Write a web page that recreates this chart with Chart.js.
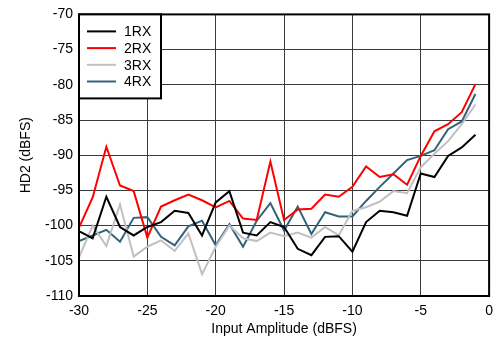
<!DOCTYPE html>
<html>
<head>
<meta charset="utf-8">
<script src="https://cdn.jsdelivr.net/npm/chart.js@4/dist/chart.umd.min.js"></script>
<style>
  html, body { margin: 0; padding: 0; background: #fff; }
  #wrap { width: 500px; height: 339px; }
</style>
</head>
<body>
<div id="wrap"><canvas id="hd2-chart"></canvas></div>
<script>
// Input amplitude (dBFS) and HD2 per receiver (dBFS)
const amplitude = [-30, -29, -28, -27, -26, -25, -24, -23, -22, -21, -20, -19, -18, -17, -16,
                   -15, -14, -13, -12, -11, -10, -9, -8, -7, -6, -5, -4, -3, -2, -1];
const rx1 = [-100.8, -101.8, -95.9, -100.2, -101.4, -100.2, -99.5, -97.9, -98.2, -101.4,
             -96.7, -95.1, -101.0, -101.4, -99.5, -100.2, -103.3, -104.2, -101.6, -101.5,
             -103.7, -99.5, -97.9, -98.1, -98.6, -92.6, -93.1, -90.1, -88.9, -87.1];
const rx2 = [-100.3, -96.0, -88.8, -94.3, -95.1, -101.7, -97.3, -96.4, -95.6, -96.4,
             -97.4, -96.5, -99.0, -99.2, -90.9, -99.2, -97.7, -97.6, -95.6, -95.9,
             -94.5, -91.6, -93.1, -92.7, -94.2, -90.1, -86.6, -85.6, -83.9, -79.9];
const rx3 = [-104.5, -100.0, -102.9, -97.0, -104.4, -103.0, -102.1, -103.6, -101.1, -106.9,
             -103.0, -100.0, -101.8, -102.2, -101.0, -101.5, -101.0, -101.7, -100.2, -101.4,
             -97.9, -97.4, -96.6, -95.1, -95.4, -91.7, -89.8, -88.0, -85.6, -82.8];
const rx4 = [-102.2, -101.4, -100.6, -102.3, -98.9, -98.8, -101.6, -102.8, -100.1, -99.3,
             -102.8, -99.8, -103.0, -99.3, -96.8, -100.7, -97.3, -101.2, -98.1, -98.7,
             -98.7, -96.5, -94.5, -92.6, -90.7, -90.1, -89.3, -86.3, -85.2, -81.3];
const seriesNames = ['1RX', '2RX', '3RX', '4RX'];
const seriesColors = ['#000000', '#ff0000', '#c0c0c0', '#33627a'];

function toPoints(values) {
    return values.map((v, i) => ({ x: amplitude[i], y: v }));
}

const font = { family: '"Liberation Sans", Arial, sans-serif', size: 14 };

// frame around the plot area plus the boxed legend in the upper left
const framePlugin = {
    id: 'frame',
    afterDatasetsDraw(chart) {
        const { ctx, chartArea: a } = chart;
        ctx.save();
        ctx.strokeStyle = '#000';
        ctx.lineWidth = 2;
        ctx.strokeRect(a.left, a.top, a.right - a.left, a.bottom - a.top);

        const bx = a.left, by = a.top, bw = 82, bh = 84;
        ctx.fillStyle = '#fff';
        ctx.fillRect(bx, by, bw, bh);
        ctx.strokeRect(bx, by, bw, bh);

        ctx.font = '14px "Liberation Sans", Arial, sans-serif';
        ctx.textBaseline = 'middle';
        chart.data.datasets.forEach((ds, i) => {
            const y = by + 17 + i * 16.7;
            ctx.strokeStyle = ds.borderColor;
            ctx.lineWidth = 2;
            ctx.beginPath();
            ctx.moveTo(bx + 8, y);
            ctx.lineTo(bx + 37, y);
            ctx.stroke();
            ctx.fillStyle = '#000';
            ctx.fillText(ds.label, bx + 45, y + 1);
        });
        ctx.restore();
    }
};

new Chart(document.getElementById('hd2-chart'), {
    type: 'line',
    data: {
        datasets: [rx1, rx2, rx3, rx4].map((vals, i) => ({
            label: seriesNames[i],
            data: toPoints(vals),
            borderColor: seriesColors[i],
            backgroundColor: seriesColors[i],
            borderWidth: 2,
            pointRadius: 0,
            tension: 0
        }))
    },
    options: {
        responsive: true,
        maintainAspectRatio: false,
        animation: false,
        layout: { padding: { left: 0, right: 8, top: 13, bottom: 0 } },
        plugins: {
            legend: { display: false },
            tooltip: { enabled: false }
        },
        scales: {
            x: {
                type: 'linear',
                min: -30,
                max: 0,
                afterFit: s => { s.height = 43; },
                ticks: { stepSize: 5, color: '#000', font, padding: 7, maxRotation: 0 },
                grid: { color: '#3a3a3a', lineWidth: 1, drawTicks: false },
                border: { display: false },
                title: { display: true, text: 'Input Amplitude (dBFS)', color: '#000', font, padding: { top: 0, bottom: 1 } }
            },
            y: {
                min: -110,
                max: -70,
                afterFit: s => { s.width = 79; },
                ticks: { stepSize: 5, color: '#000', font, padding: 6 },
                grid: { color: '#3a3a3a', lineWidth: 1, drawTicks: false },
                border: { display: false },
                title: { display: true, text: 'HD2 (dBFS)', color: '#000', font, padding: { top: 18, bottom: 0 } }
            }
        }
    },
    plugins: [framePlugin]
});
</script>
</body>
</html>
